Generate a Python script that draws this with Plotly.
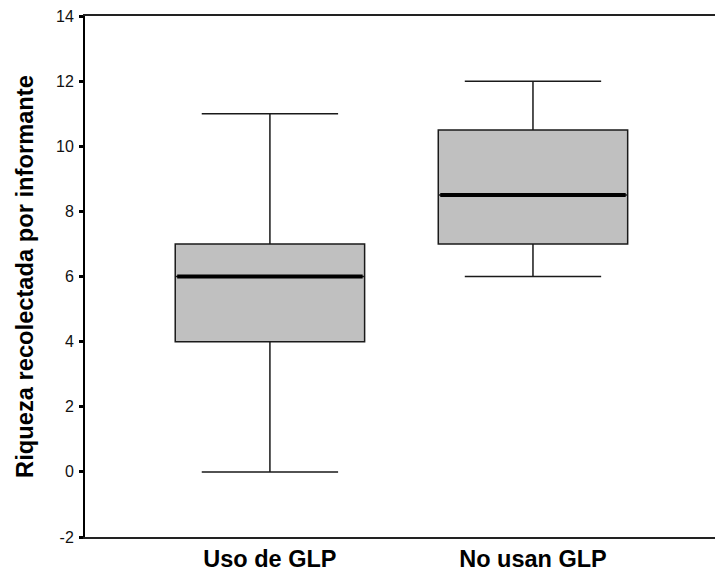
import plotly.graph_objects as go

# Summary statistics for each group
groups = ["Uso de GLP", "No usan GLP"]
lower_fence = [0, 6]
q1 = [4, 7]
median = [6, 8.5]
q3 = [7, 10.5]
upper_fence = [11, 12]

y_ticks = [-2, 0, 2, 4, 6, 8, 10, 12, 14]

FONT = "Liberation Sans, Arial, sans-serif"

fig = go.Figure()

fig.add_trace(go.Box(
    x=groups,
    lowerfence=lower_fence,
    q1=q1,
    median=median,
    q3=q3,
    upperfence=upper_fence,
    fillcolor="#c0c0c0",
    line=dict(color="#1a1a1a", width=1.5),
    width=0.72,
    whiskerwidth=0.72,
    boxpoints=False,
    hoverinfo="skip",
    showlegend=False,
))

# Heavier median bar drawn as a flat box over the first one
fig.add_trace(go.Box(
    x=groups,
    lowerfence=median,
    q1=median,
    median=median,
    q3=median,
    upperfence=median,
    fillcolor="rgba(0,0,0,0)",
    line=dict(color="black", width=4),
    width=0.705,
    whiskerwidth=0,
    boxpoints=False,
    hoverinfo="skip",
    showlegend=False,
))

fig.update_layout(
    width=715,
    height=579,
    margin=dict(l=85, r=0, t=16, b=42),
    paper_bgcolor="white",
    plot_bgcolor="white",
    font=dict(family=FONT, color="black"),
    xaxis=dict(
        type="category",
        range=[-0.703, 1.692],
        showline=True,
        mirror=True,
        linecolor="#222222",
        linewidth=1.5,
        showgrid=False,
        zeroline=False,
        ticks="",
        tickfont=dict(size=23.5, family=FONT, color="black", weight="bold"),
    ),
    yaxis=dict(
        range=[-2, 14],
        tickvals=y_ticks,
        ticktext=[str(v) for v in y_ticks],
        showline=True,
        linecolor="black",
        linewidth=2,
        showgrid=False,
        zeroline=False,
        ticks="outside",
        ticklen=4,
        tickwidth=3,
        tickcolor="black",
        ticklabelstandoff=2,
        tickfont=dict(size=16, color="#111111"),
        title=dict(
            text="Riqueza recolectada por informante",
            font=dict(size=23.7, weight="bold", color="black"),
            standoff=16,
        ),
    ),
)

fig.write_html("out.html")
